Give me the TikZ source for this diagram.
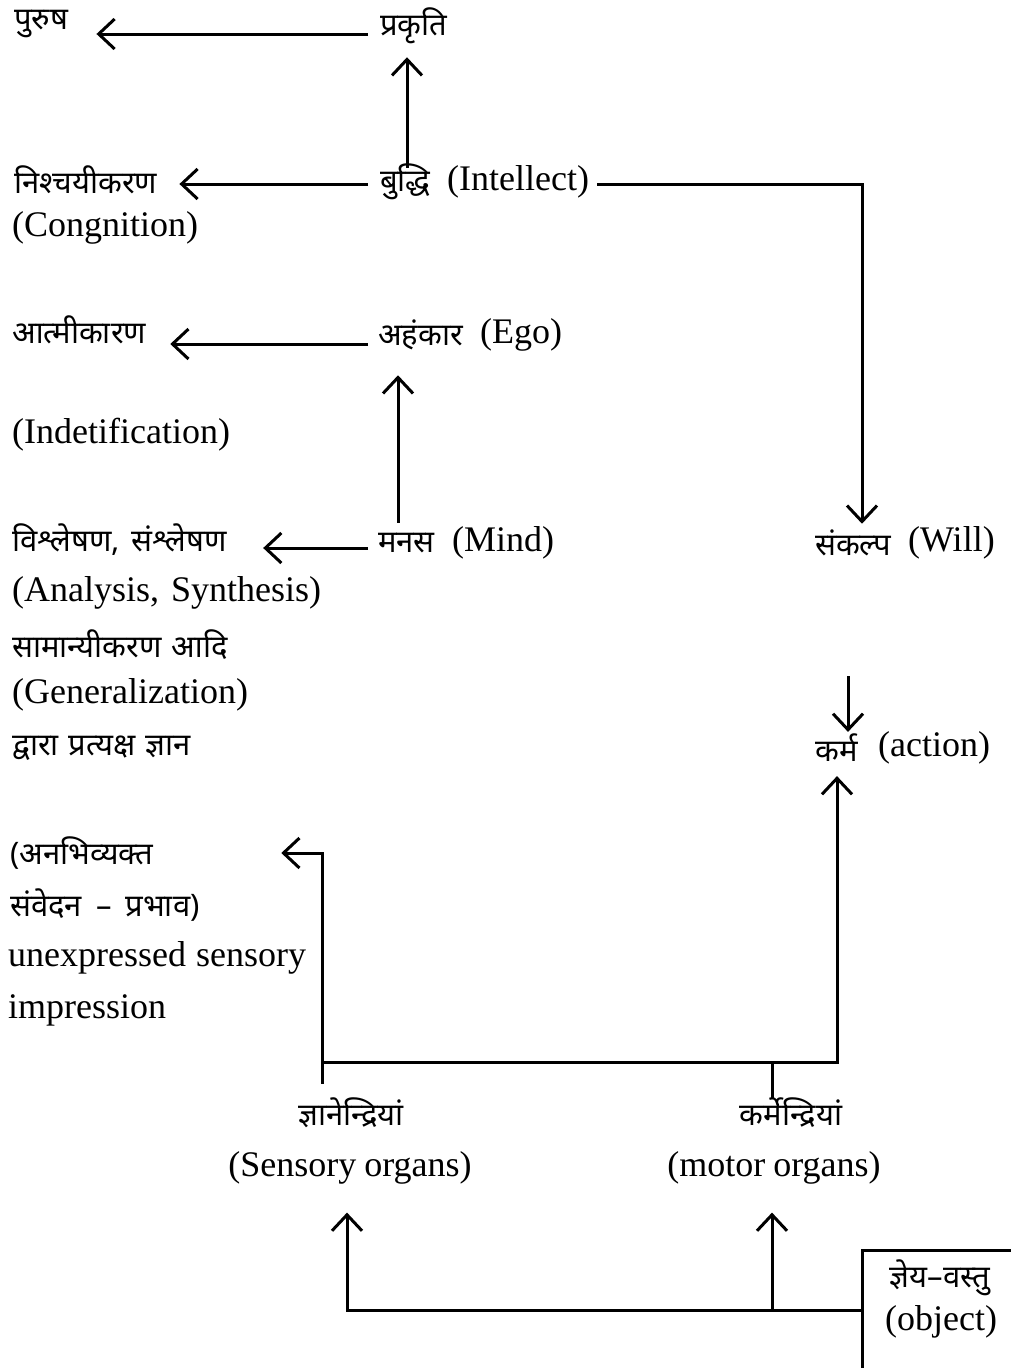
\documentclass[tikz,border=0pt]{standalone}
\usepackage{fontspec}
\setmainfont{Liberation Serif}
\newfontfamily\hindi[Script=Devanagari]{Noto Sans}
\usetikzlibrary{arrows.meta,positioning}

\begin{document}
\begin{tikzpicture}[x=1pt,y=-1pt,
  lbl/.style={anchor=west,inner sep=0pt,font=\fontsize{36}{42}\selectfont},
  hin/.style={anchor=west,inner sep=0pt,font=\fontsize{31}{36}\selectfont\hindi},
  link/.style={line width=3pt},
  arr/.style={link,-{Straight Barb[length=16pt,width=30pt,line width=3pt]}}]
\useasboundingbox [fill=white] (0,0) rectangle (1010,1368);
\node[hin] (purusha) at (14,24) {पुरुष};
\node[hin] (prakriti) at (380,26) {प्रकृति};
\node[hin] (nishchay) at (14,180) {निश्चयीकरण};
\node[lbl] (cognition) at (12,228) {(Congnition)};
\node[hin] (buddhi) at (380,182) {बुद्धि};
\node[lbl] (intellect) at (447,182) {(Intellect)};
\node[hin] (atmi) at (12,330) {आत्मीकारण};
\node[hin] (ahamkar) at (378,335) {अहंकार};
\node[lbl] (ego) at (480,335) {(Ego)};
\node[lbl] (identif) at (12,435) {(Indetification)};
\node[hin] (vishlesh) at (12,540) {विश्लेषण,\hspace{12pt}संश्लेषण};
\node[hin] (manas) at (378,543) {मनस};
\node[lbl] (mind) at (452,543) {(Mind)};
\node[hin] (sankalp) at (815,543) {संकल्प};
\node[lbl] (will) at (908,543) {(Will)};
\node[lbl] (analysis) at (12,593) {(Analysis,\hspace{12pt}Synthesis)};
\node[hin] (saman) at (12,645) {सामान्यीकरण\hspace{10pt}आदि};
\node[lbl] (general) at (12,695) {(Generalization)};
\node[hin] (dvara) at (12,748) {द्वारा\hspace{10pt}प्रत्यक्ष\hspace{10pt}ज्ञान};
\node[hin] (karma) at (815,748) {कर्म};
\node[lbl] (action) at (878,748) {(action)};
\node[hin] (anabhi) at (10,853) {(अनभिव्यक्त};
\node[hin] (samved) at (10,905) {संवेदन\hspace{14pt}–\hspace{14pt}प्रभाव)};
\node[lbl] (unexp) at (8,958) {unexpressed\hspace{10pt}sensory};
\node[lbl] (impress) at (8,1010) {impression};
\node[hin,anchor=center] (jnan) at (351,1113) {ज्ञानेन्द्रियां};
\node[lbl,anchor=center] (sensory) at (350,1168) {(Sensory\hspace{8pt}organs)};
\node[hin,anchor=center] (karmen) at (791,1113) {कर्मेन्द्रियां};
\node[lbl,anchor=center] (motor) at (774,1168) {(motor\hspace{8pt}organs)};
\node[hin,anchor=center] (jneya) at (940,1278) {ज्ञेय–वस्तु};
\node[lbl,anchor=center] (object) at (941,1322) {(object)};
\coordinate (sbus) at (322,1062);
\coordinate (mbus) at (772,1062);
\coordinate (obus) at (862,1310);
\coordinate (mtop) at (772,1310);
\draw[link] (1015,1250) -| (862,1375);
\draw[arr,shorten <=12pt,shorten >=28pt] ([yshift=-8pt]prakriti.west) -- ([yshift=-8pt]prakriti.west -| purusha.east);
\draw[arr,shorten <=-4pt,shorten >=13pt] (buddhi.north -| 407,0) -- (prakriti.south -| 407,0);
\draw[arr,shorten <=12pt,shorten >=22pt] ([yshift=-2pt]buddhi.west) -- ([yshift=-2pt]buddhi.west -| nishchay.east);
\draw[arr,shorten <=8pt,shorten >=6pt] ([yshift=-2pt]intellect.east) -| (sankalp.north -| 862,0);
\draw[arr,shorten <=10pt,shorten >=24pt] ([yshift=-9pt]ahamkar.west) -- ([yshift=-9pt]ahamkar.west -| atmi.east);
\draw[arr,shorten <=10pt,shorten >=25pt] (manas.north -| 398,0) -- (ahamkar.south -| 398,0);
\draw[arr,shorten <=10pt,shorten >=36pt] ([yshift=-5pt]manas.west) -- ([yshift=-5pt]manas.west -| vishlesh.east);
\draw[arr,shorten <=120pt,shorten >=2pt] (sankalp.south -| 848,0) -- (karma.north -| 848,0);
\draw[arr,shorten <=14pt,shorten >=128pt] (jnan.north -| sbus) -- (sbus) |- (anabhi.east);
\draw[arr,shorten >=14pt] (sbus) -| (karma.south -| 837,0);
\draw[link] (karmen.north -| mbus) -- (mbus);
\draw[arr,shorten >=28pt] (obus) -| (sensory.south -| 347,0);
\draw[arr,shorten >=28pt] (mtop) -- (motor.south -| mtop);
\end{tikzpicture}
\end{document}
